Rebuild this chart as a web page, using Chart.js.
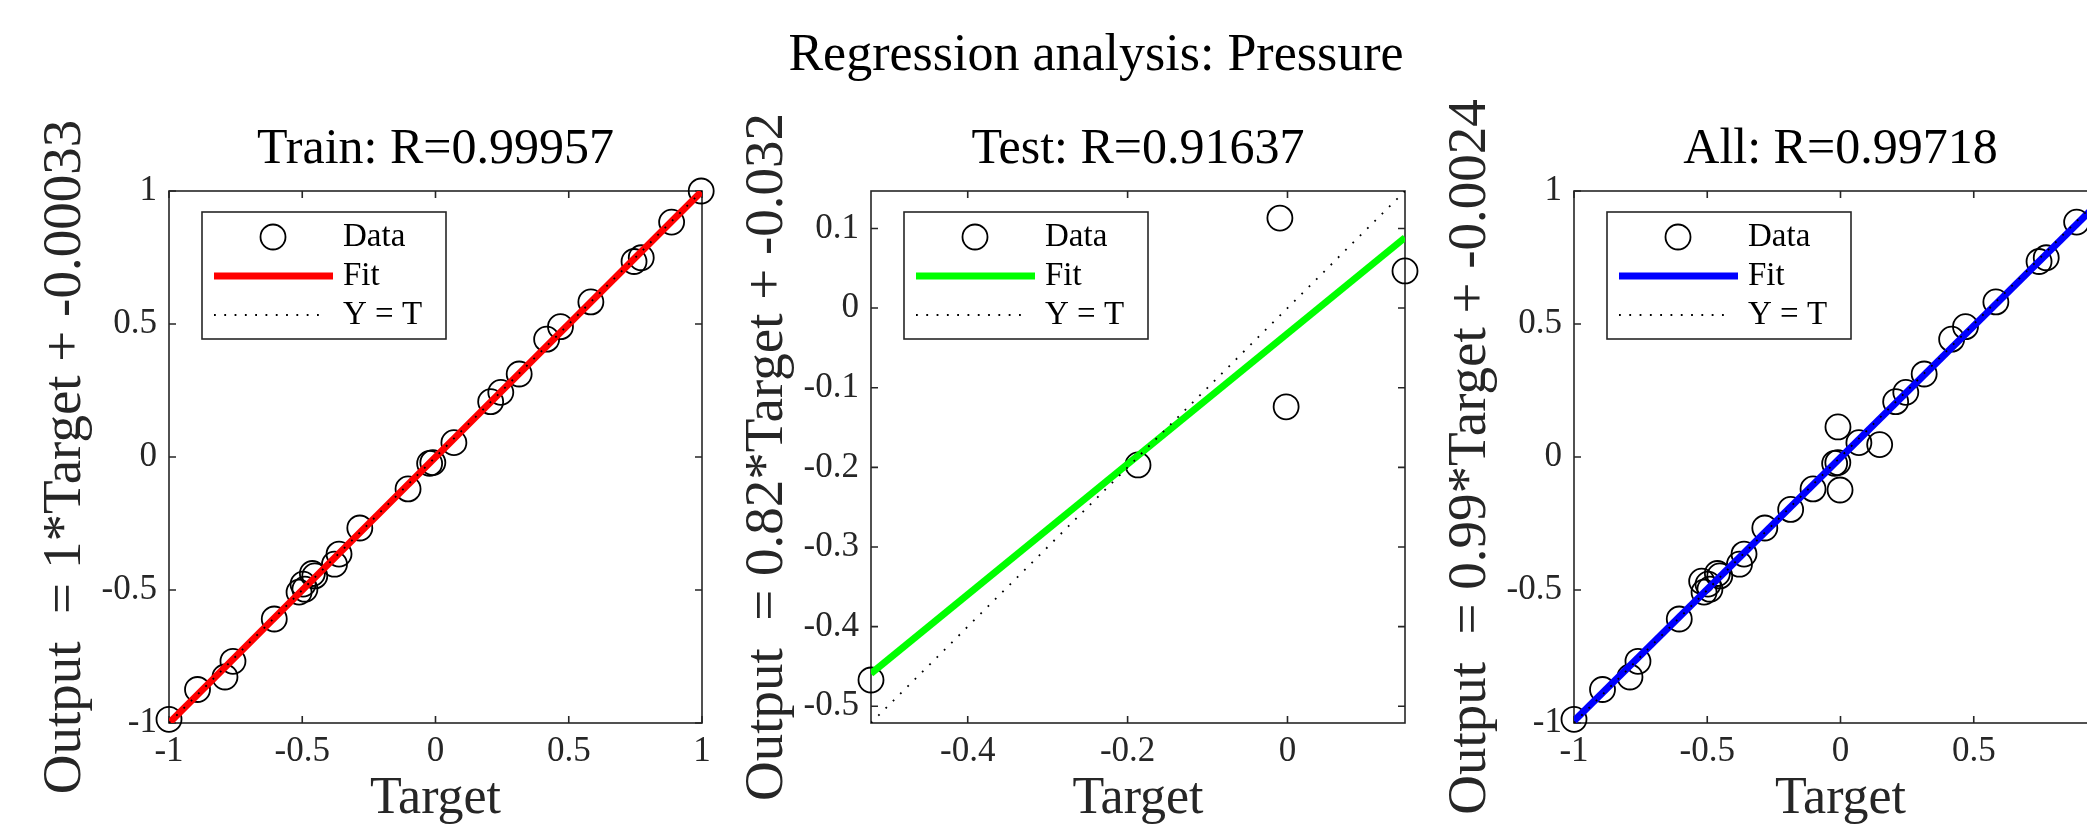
<!DOCTYPE html>
<html>
<head>
<meta charset="utf-8">
<script src="https://cdn.jsdelivr.net/npm/chart.js@4.4.1/dist/chart.umd.min.js"></script>
<style>
  html, body { margin: 0; padding: 0; background: #fff; overflow: hidden; }
  #wrap { position: relative; width: 2087px; height: 828px; overflow: hidden; background: #fff; }
  canvas { position: absolute; top: 0; }
  #suptitle {
    position: absolute; left: 0; width: 2192px; top: 23px;
    text-align: center; font: 52px "Liberation Serif"; line-height: 60px; color: #000;
  }
</style>
</head>
<body>
<div id="wrap">
  <div id="suptitle">Regression analysis: Pressure</div>
  <canvas id="train" width="720" height="828" style="left:0px"></canvas>
  <canvas id="test" width="721" height="828" style="left:702px"></canvas>
  <canvas id="all" width="720" height="828" style="left:1405px"></canvas>
</div>
<script>
// values
const trainTarget = [-1, -0.893, -0.790, -0.760, -0.605, -0.512, -0.497, -0.490, -0.462, -0.453,
  -0.379, -0.362, -0.284, -0.103, -0.022, -0.010, 0.069, 0.207, 0.245, 0.314,
  0.417, 0.469, 0.583, 0.745, 0.772, 0.886, 0.997]
const trainOutput = [-0.986, -0.874, -0.827, -0.768, -0.609, -0.508, -0.478, -0.497, -0.438, -0.447,
  -0.403, -0.365, -0.267, -0.120, -0.024, -0.021, 0.054, 0.208, 0.243, 0.312,
  0.443, 0.490, 0.583, 0.735, 0.749, 0.883, 1.0]
const testTarget = [-0.521, -0.187, -0.0095, -0.0017, 0.147]
const testOutput = [-0.467, -0.197, 0.113, -0.124, 0.0466]
const allTarget = trainTarget.concat(testTarget)
const allOutput = trainOutput.concat(testOutput)

// fit line ends (x at axis limits)
const trainFitX = [-1, 1],        trainFitY = [-1.0003, 0.9997]
const testFitX  = [-0.521, 0.147], testFitY  = [-0.459, 0.0885]
const allFitX   = [-1, 1],        allFitY   = [-0.9924, 0.9876]

const unitTicks  = [-1, -0.5, 0, 0.5, 1]
const testXTicks = [-0.4, -0.2, 0]
const testYTicks = [-0.5, -0.4, -0.3, -0.2, -0.1, 0, 0.1]

const SERIF = '"Liberation Serif", "Times New Roman", serif'
const AXIS_COLOR = '#262626'

const pts = (xs, ys) => xs.map((x, i) => ({ x, y: ys[i] }))

const matlabAxes = {
  id: 'matlabAxes',
  beforeDatasetsDraw(chart) {
    const { ctx, chartArea: a, scales: { x, y } } = chart
    ctx.save()
    ctx.strokeStyle = AXIS_COLOR
    ctx.lineWidth = 1.6
    ctx.beginPath()
    x.ticks.forEach(t => {
      const px = x.getPixelForValue(t.value)
      ctx.moveTo(px, a.bottom); ctx.lineTo(px, a.bottom - 7)
      ctx.moveTo(px, a.top);    ctx.lineTo(px, a.top + 7)
    })
    y.ticks.forEach(t => {
      const py = y.getPixelForValue(t.value)
      ctx.moveTo(a.left, py);  ctx.lineTo(a.left + 7, py)
      ctx.moveTo(a.right, py); ctx.lineTo(a.right - 7, py)
    })
    ctx.stroke()
    ctx.strokeRect(a.left, a.top, a.right - a.left, a.bottom - a.top)
    ctx.restore()
  },
  afterDatasetsDraw(chart) {
    // matlab style legend box, top left inside the axes
    const { ctx, chartArea: a } = chart
    const ds = chart.data.datasets
    const lx = a.left + 33, ly = a.top + 21
    ctx.save()
    ctx.fillStyle = '#fff'
    ctx.fillRect(lx, ly, 244, 127)
    ctx.strokeStyle = AXIS_COLOR
    ctx.lineWidth = 1.6
    ctx.strokeRect(lx, ly, 244, 127)

    const rows = [25, 64, 103]
    // Data
    ctx.lineWidth = ds[0].pointBorderWidth
    ctx.strokeStyle = ds[0].borderColor
    ctx.beginPath()
    ctx.arc(lx + 71, ly + rows[0], 12.5, 0, Math.PI * 2)
    ctx.stroke()
    // Fit
    ctx.lineWidth = ds[1].borderWidth
    ctx.strokeStyle = ds[1].borderColor
    ctx.beginPath()
    ctx.moveTo(lx + 12, ly + rows[1]); ctx.lineTo(lx + 131, ly + rows[1])
    ctx.stroke()
    // Y = T
    ctx.lineWidth = ds[2].borderWidth
    ctx.strokeStyle = ds[2].borderColor
    ctx.setLineDash(ds[2].borderDash)
    ctx.beginPath()
    ctx.moveTo(lx + 12, ly + rows[2]); ctx.lineTo(lx + 121, ly + rows[2])
    ctx.stroke()
    ctx.setLineDash([])

    ctx.fillStyle = '#000'
    ctx.font = '33px ' + SERIF
    ctx.textAlign = 'left'
    ctx.textBaseline = 'middle'
    ds.forEach((d, i) => ctx.fillText(d.label, lx + 141, ly + rows[i]))
    ctx.restore()
  }
}

function panel(id, opt) {
  const lim = opt.lim
  new Chart(document.getElementById(id), {
    type: 'scatter',
    data: {
      datasets: [
        {
          label: 'Data', data: pts(opt.target, opt.output),
          pointRadius: 12.5, pointBorderWidth: 1.8, pointStyle: 'circle',
          borderColor: '#000', pointBorderColor: '#000', pointBackgroundColor: 'rgba(0,0,0,0)',
          clip: false, order: 3
        },
        {
          label: 'Fit', data: pts(opt.fitX, opt.fitY), showLine: true,
          borderColor: opt.color, borderWidth: 7, pointRadius: 0, order: 2
        },
        {
          label: 'Y = T', data: pts(lim, lim), showLine: true,
          borderColor: '#000', borderWidth: 1.8, borderDash: [1.8, 8.5], pointRadius: 0, order: 1
        }
      ]
    },
    options: {
      responsive: false,
      animation: false,
      events: [],
      devicePixelRatio: 1,
      layout: { padding: { left: 0, right: 18, top: 0, bottom: 0 } },
      plugins: {
        legend: { display: false },
        tooltip: { enabled: false },
        title: {
          display: true, text: opt.title, color: '#000', fullSize: false,
          font: { family: SERIF, size: 50, weight: 'normal', lineHeight: 1.2 },
          padding: { top: 120, bottom: 11 }
        }
      },
      scales: {
        x: {
          type: 'linear', min: lim[0], max: lim[1],
          afterBuildTicks: s => { s.ticks = opt.xTicks.map(v => ({ value: v })) },
          afterFit: s => { s.height = 105 },
          grid: { display: false, drawTicks: false },
          border: { display: false },
          ticks: {
            autoSkip: false, maxRotation: 0, padding: 8, color: AXIS_COLOR,
            font: { family: SERIF, size: 35 },
            callback: v => String(v)
          },
          title: {
            display: true, text: 'Target', color: AXIS_COLOR,
            font: { family: SERIF, size: 52, lineHeight: 1.1 },
            padding: { top: 0, bottom: 0 }
          }
        },
        y: {
          type: 'linear', min: lim[0], max: lim[1],
          afterBuildTicks: s => { s.ticks = opt.yTicks.map(v => ({ value: v })) },
          afterFit: s => { s.width = 169 },
          grid: { display: false, drawTicks: false },
          border: { display: false },
          ticks: {
            autoSkip: false, padding: 12, color: AXIS_COLOR,
            font: { family: SERIF, size: 35 },
            callback: v => String(v)
          },
          title: {
            display: true, text: opt.ylabel, color: AXIS_COLOR,
            font: { family: SERIF, size: 55, lineHeight: 1.2 },
            padding: { top: 33, bottom: 0 }
          }
        }
      }
    },
    plugins: [matlabAxes]
  })
}

function draw() {
  panel('train', {
    title: 'Train: R=0.99957', ylabel: 'Output  = 1*Target + -0.00033',
    target: trainTarget, output: trainOutput, fitX: trainFitX, fitY: trainFitY,
    color: '#ff0000', lim: [-1, 1], xTicks: unitTicks, yTicks: unitTicks
  })
  panel('test', {
    title: 'Test: R=0.91637', ylabel: 'Output  = 0.82*Target + -0.032',
    target: testTarget, output: testOutput, fitX: testFitX, fitY: testFitY,
    color: '#00ff00', lim: [-0.521, 0.147], xTicks: testXTicks, yTicks: testYTicks
  })
  panel('all', {
    title: 'All: R=0.99718', ylabel: 'Output  = 0.99*Target + -0.0024',
    target: allTarget, output: allOutput, fitX: allFitX, fitY: allFitY,
    color: '#0000ff', lim: [-1, 1], xTicks: unitTicks, yTicks: unitTicks
  })
}

if (document.fonts && document.fonts.load) {
  document.fonts.load('32px "Liberation Serif"').then(draw, draw)
} else {
  draw()
}
</script>
</body>
</html>
